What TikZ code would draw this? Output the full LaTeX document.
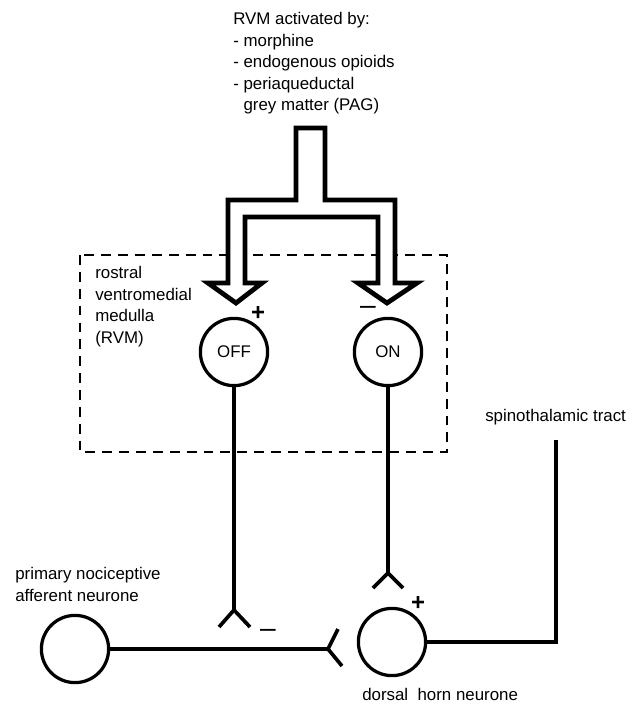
\documentclass[tikz,border=0pt]{standalone}
\usepackage{fontspec}
\setmainfont{Liberation Sans}
\usetikzlibrary{positioning}

\begin{document}
\begin{tikzpicture}[
    x=0.025cm, y=-0.025cm,
    neuron/.style={draw, circle, line width=2.3pt, inner sep=0pt, minimum size=1.68cm, font=\fontsize{12}{14}\selectfont},
    axon/.style={line width=2.6pt},
    tract/.style={line width=3.3pt, line join=miter},
    textlabel/.style={align=left, inner sep=0pt, anchor=north west, font=\fontsize{12}{15.3}\selectfont},
    plus/.style={inner sep=0pt, font=\fontsize{17}{17}\selectfont\bfseries},
    minus/.style={inner sep=0pt, font=\fontsize{20}{20}\selectfont},
    hollow/.style={draw, fill=white, line width=3.4pt, line join=miter},
    region/.style={draw, dash pattern=on 7pt off 5pt, line width=1pt},
]
\useasboundingbox (0,0) rectangle (639,706);

% RVM region
\draw[region] (80,255) rectangle (447,452);
\node[textlabel] (rvmtext) at (95,266) {rostral\\ventromedial\\medulla\\(RVM)};

% Activation
\node[textlabel] (activators) at (233,12) {RVM activated by:\\- morphine\\- endogenous opioids\\- periaqueductal\\\phantom{- }grey matter (PAG)};
\draw[hollow] (296,128) -- (325,128) -- (325,200) -- (395,200) -- (395,283)
    -- (417,283) -- (387,303) -- (358,283) -- (378,283) -- (378,217)
    -- (245,217) -- (245,283) -- (262,283) -- (236,303) -- (208,283)
    -- (228,283) -- (228,200) -- (296,200) -- cycle;

% Cells
\node[neuron] (off) at (234,352) {OFF};
\node[neuron] (on) at (388,352) {ON};
\node[neuron] (afferent) at (75,649) {};
\node[neuron] (dorsal) at (392,642) {};

% Signs
\node[plus] at (258,313) {+};
\node[minus] at (368,310) {–};
\node[minus] at (268,633) {–};
\node[plus] at (418,603) {+};

% Synapses
\coordinate (offsyn) at (234,610);
\coordinate (onsyn) at (388,573);
\coordinate (affsyn) at (328,649);
\draw[axon] (off) -- (offsyn);
\draw[axon] (offsyn) ++(-15,17) -- (offsyn) -- ++(16,17);
\draw[axon] (on) -- (onsyn);
\draw[axon] (onsyn) ++(-15,15) -- (onsyn) -- ++(15,15);
\draw[axon] (afferent) -- (affsyn);
\draw[axon] (affsyn) ++(10,-20) -- (affsyn) -- ++(14,17);

% Tract
\coordinate (corner) at (556,642);
\coordinate (tracttop) at (556,440);
\draw[tract] (dorsal) -- (corner) -- (tracttop);

% Labels
\node[textlabel] (spino) at (485,409) {spinothalamic tract};
\node[textlabel] (primary) at (15,567) {primary nociceptive\\afferent neurone};
\node[textlabel] (dorsaltext) at (362,688) {dorsal\ \ horn neurone};

\end{tikzpicture}
\end{document}
